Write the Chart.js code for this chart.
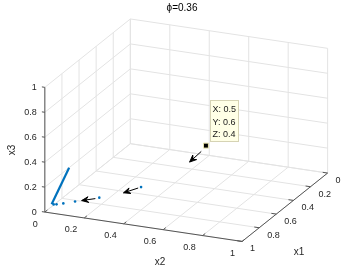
<!DOCTYPE html>
<html>
<head>
<meta charset="utf-8">
<script src="https://cdn.jsdelivr.net/npm/chart.js@4.4.1/dist/chart.umd.min.js"></script>
<style>
body { margin: 0; background: #fff; }
#wrap { width: 354px; height: 271px; }
</style>
</head>
<body>
<div id="wrap"><canvas id="c" width="354" height="271"></canvas></div>
<script>
// tick positions shared by the three axes
var tickVals = [0, 0.2, 0.4, 0.6, 0.8, 1];
var tickLabels = ['0', '0.2', '0.4', '0.6', '0.8', '1'];

// iterates (blue dots)
var ptX1 = [0.920, 0.914, 0.890, 0.845, 0.753, 0.546];
var ptX2 = [0.010, 0.022, 0.046, 0.086, 0.169, 0.291];
var ptX3 = [0.02, 0.02, 0.02, 0.02, 0.02, 0.02];

// thick blue segment
var lineX1 = [0.923, 0.716];
var lineX2 = [0.001, 0.0];
var lineX3 = [0.02, 0.2];

// quiver arrows: base + direction
var qX1 = [0.119, 0.686, 0.895];
var qX2 = [0.411, 0.337, 0.2105];
var qX3 = [0.1, 0.1, 0.1];
var qU = [0.152, 0.086, 0.049];
var qV = [0.007, -0.037, -0.048];
var qW = [0, 0, 0];

// data tip
var tipPoint = [0.5, 0.6, 0.4];
var tipLines = ['X: 0.5', 'Y: 0.6', 'Z: 0.4'];
var titleText = '\u03d5=0.36';

// view of the 3d box
var view = { ox: 129, oy: 144, e1: [-88, 71], e2: [203, 30.5], e3: [0, -129.5] };

function proj(a, b, c) {
    return {
        x: view.ox + a * view.e1[0] + b * view.e2[0] + c * view.e3[0],
        y: view.oy + a * view.e1[1] + b * view.e2[1] + c * view.e3[1]
    };
}

var datasets = [];
function addLine(pts, color, width, extra) {
    datasets.push(Object.assign({
        data: pts, showLine: true, borderColor: color, borderWidth: width,
        pointRadius: 0, fill: false, clip: false
    }, extra || {}));
}

var gridColor = '#e3e3e3';
var axisColor = '#555555';
var blue = '#0072BD';

// back walls + floor grid
tickVals.forEach(function (t) {
    addLine([proj(t, 0, 0), proj(t, 1, 0)], gridColor, 1);
    addLine([proj(0, t, 0), proj(1, t, 0)], gridColor, 1);
    addLine([proj(t, 0, 0), proj(t, 0, 1)], gridColor, 1);
    addLine([proj(0, 0, t), proj(1, 0, t)], gridColor, 1);
    addLine([proj(0, t, 0), proj(0, t, 1)], gridColor, 1);
    addLine([proj(0, 0, t), proj(0, 1, t)], gridColor, 1);
});

// data
var dots = [];
for (var i = 0; i < ptX1.length; i++) dots.push(proj(ptX1[i], ptX2[i], ptX3[i]));
datasets.push({ data: dots, showLine: false, pointRadius: 1.3, pointBackgroundColor: blue, pointBorderWidth: 0, clip: false });

var seg = [];
for (var i = 0; i < lineX1.length; i++) seg.push(proj(lineX1[i], lineX2[i], lineX3[i]));
addLine(seg, blue, 2.2);

for (var i = 0; i < qX1.length; i++) {
    var a = proj(qX1[i], qX2[i], qX3[i]);
    var b = proj(qX1[i] + qU[i], qX2[i] + qV[i], qX3[i] + qW[i]);
    addLine([a, b], '#000', 1);
    var dx = b.x - a.x, dy = b.y - a.y, len = Math.sqrt(dx * dx + dy * dy);
    dx /= len; dy /= len;
    var hl = 7, hw = 3;
    var head = [
        b,
        { x: b.x - hl * dx - hw * dy, y: b.y - hl * dy + hw * dx },
        { x: b.x - hl * dx * 0.6, y: b.y - hl * dy * 0.6 },
        { x: b.x - hl * dx + hw * dy, y: b.y - hl * dy - hw * dx },
        b
    ];
    addLine(head, '#000', 1, { fill: 'shape', backgroundColor: '#000' });
}

var tp = proj(tipPoint[0], tipPoint[1], tipPoint[2]);
datasets.push({ data: [tp], showLine: false, pointStyle: 'rect', pointRadius: 3.5,
    pointBackgroundColor: '#000', pointBorderColor: '#e8e4b0', pointBorderWidth: 1, clip: false });

// axis lines and ticks
addLine([proj(1, 0, 0), proj(1, 0, 1)], axisColor, 1);
addLine([proj(1, 0, 0), proj(1, 1, 0)], axisColor, 1);
addLine([proj(0, 1, 0), proj(1, 1, 0)], axisColor, 1);
tickVals.forEach(function (t) {
    addLine([proj(1, 0, t), proj(1, -0.015, t)], axisColor, 1);
    addLine([proj(1, t, 0), proj(0.97, t, 0)], axisColor, 1);
    addLine([proj(t, 1, 0), proj(t, 0.975, 0)], axisColor, 1);
});

// first dataset is drawn on top, so flip to back-to-front
datasets.reverse();

var labelsPlugin = {
    id: 'labels3d',
    afterDraw: function (chart) {
        var ctx = chart.ctx;
        var sx = chart.scales.x, sy = chart.scales.y;
        function px(p) { return { x: sx.getPixelForValue(p.x), y: sy.getPixelForValue(p.y) }; }
        ctx.save();
        ctx.fillStyle = '#262626';
        ctx.font = '9px "Liberation Sans", Arial, sans-serif';
        ctx.textBaseline = 'middle';
        tickVals.forEach(function (t, k) {
            var p = px(proj(1, 0, t));
            ctx.textAlign = 'right';
            ctx.fillText(tickLabels[k], p.x - 8, p.y);
            p = px(proj(1, t, 0));
            ctx.fillText(tickLabels[k], p.x - 7, p.y + 12);
            p = px(proj(t, 1, 0));
            ctx.textAlign = 'left';
            ctx.fillText(tickLabels[k], p.x + 8, p.y + 7.5);
        });
        ctx.font = '10px "Liberation Sans", Arial, sans-serif';
        ctx.textAlign = 'center';
        ctx.fillText('x2', 160, 262);
        ctx.fillText('x1', 299, 252);
        ctx.save();
        ctx.translate(12, 150);
        ctx.rotate(-Math.PI / 2);
        ctx.fillText('x3', 0, 0);
        ctx.restore();
        ctx.fillStyle = '#000';
        ctx.fillText(titleText, 182, 8);

        // data tip box
        var t = px(tp);
        var bx = Math.round(t.x + 4) + 0.5, by = Math.round(t.y - 46) + 0.5;
        ctx.fillStyle = '#ffffe6';
        ctx.strokeStyle = '#d6d3b4';
        ctx.lineWidth = 1;
        ctx.fillRect(bx, by, 28, 41);
        ctx.strokeRect(bx, by, 28, 41);
        ctx.fillStyle = '#1a1a1a';
        ctx.font = '9px "Liberation Sans", Arial, sans-serif';
        ctx.textAlign = 'left';
        tipLines.forEach(function (s, k) {
            ctx.fillText(s, bx + 2, by + 9.5 + k * 12.5);
        });
        ctx.restore();
    }
};

new Chart(document.getElementById('c'), {
    type: 'scatter',
    data: { datasets: datasets },
    options: {
        responsive: false,
        devicePixelRatio: 1,
        animation: false,
        events: [],
        layout: { padding: 0 },
        scales: {
            x: { type: 'linear', min: 0, max: 354, display: false },
            y: { type: 'linear', min: 0, max: 271, reverse: true, display: false }
        },
        plugins: { legend: { display: false }, tooltip: { enabled: false } }
    },
    plugins: [labelsPlugin]
});
</script>
</body>
</html>
